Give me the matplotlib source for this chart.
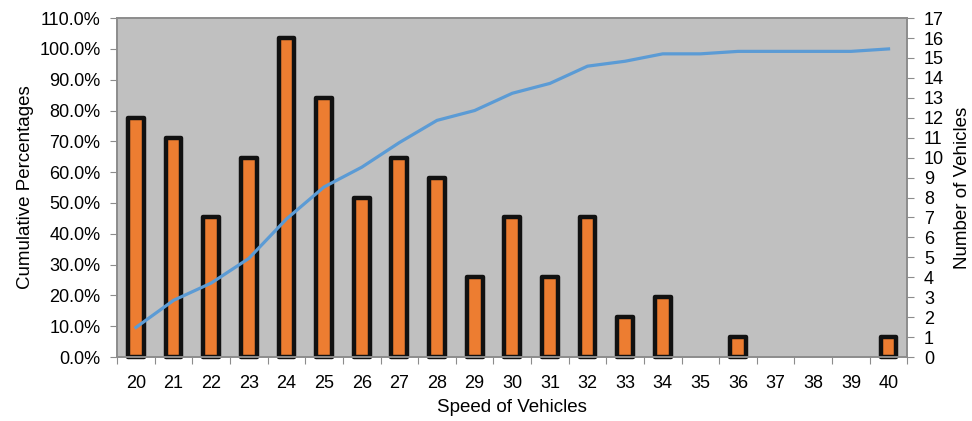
import matplotlib
matplotlib.use('Agg')
import matplotlib.pyplot as plt
import numpy as np
from matplotlib.ticker import FuncFormatter

plt.rcParams['font.family'] = ['Liberation Sans', 'DejaVu Sans']

# speed counts and running share of vehicles
speeds = list(range(20, 41))
vehicles = [12, 11, 7, 10, 16, 13, 8, 10, 9, 4, 7, 4, 7, 2, 3, 0, 1, 0, 0, 0, 1]
cumulative = [9.6, 18.4, 24.0, 32.0, 44.8, 55.2, 61.6, 69.6, 76.8, 80.0, 85.6,
              88.8, 94.4, 96.0, 98.4, 98.4, 99.2, 99.2, 99.2, 99.2, 100.0]

fig = plt.figure(figsize=(9.72, 4.21), dpi=100)
ax = fig.add_axes([0.1205, 0.152, 0.813, 0.805])
ax2 = ax.twinx()

grey = '#8c8c8c'

# empty speeds get no bar at all
shown = [(s, v) for s, v in zip(speeds, vehicles) if v > 0]
ax2.bar([s for s, v in shown], [v for s, v in shown], width=0.42,
        color='#ed7d31', edgecolor='#111111', linewidth=3.2,
        joinstyle='round', clip_on=False, zorder=2)
ax.plot(speeds, cumulative, color='#5b9bd5', linewidth=2.3, zorder=5)

# line axes on top, grey face drawn by the bar axes underneath
ax.set_zorder(ax2.get_zorder() + 1)
ax.patch.set_visible(False)
ax2.patch.set_visible(True)
ax2.patch.set_facecolor('#c0c0c0')

ax.set_xlim(19.5, 40.5)
ax.set_ylim(0, 110)
ax2.set_ylim(0, 17)
ax.set_yticks(np.arange(0, 111, 10))
ax.yaxis.set_major_formatter(FuncFormatter(lambda v, p: '%.1f%%' % v))
ax2.set_yticks(range(0, 18))

ax.set_xticks(np.arange(19.5, 40.6, 1))
ax.set_xticklabels([])
ax.set_xticks(speeds, minor=True)
ax.set_xticklabels([str(s) for s in speeds], minor=True)
ax.tick_params(axis='x', which='minor', length=0, labelsize=13, pad=13)
ax.tick_params(axis='x', which='major', length=5, color=grey, direction='out')
ax.tick_params(axis='y', length=5, color=grey, labelsize=13, pad=7)
ax2.tick_params(axis='y', length=5, color=grey, labelsize=13, pad=7)

for a in (ax, ax2):
    for s in a.spines.values():
        s.set_color(grey)
        s.set_linewidth(1.2)

ax.set_xlabel('Speed of Vehicles', fontsize=13.5, labelpad=5)
ax.set_ylabel('Cumulative Percentages', fontsize=13.5, labelpad=4)
ax2.set_ylabel('Number of Vehicles', fontsize=13.5, labelpad=7)

fig.savefig('out.png', dpi=100)
